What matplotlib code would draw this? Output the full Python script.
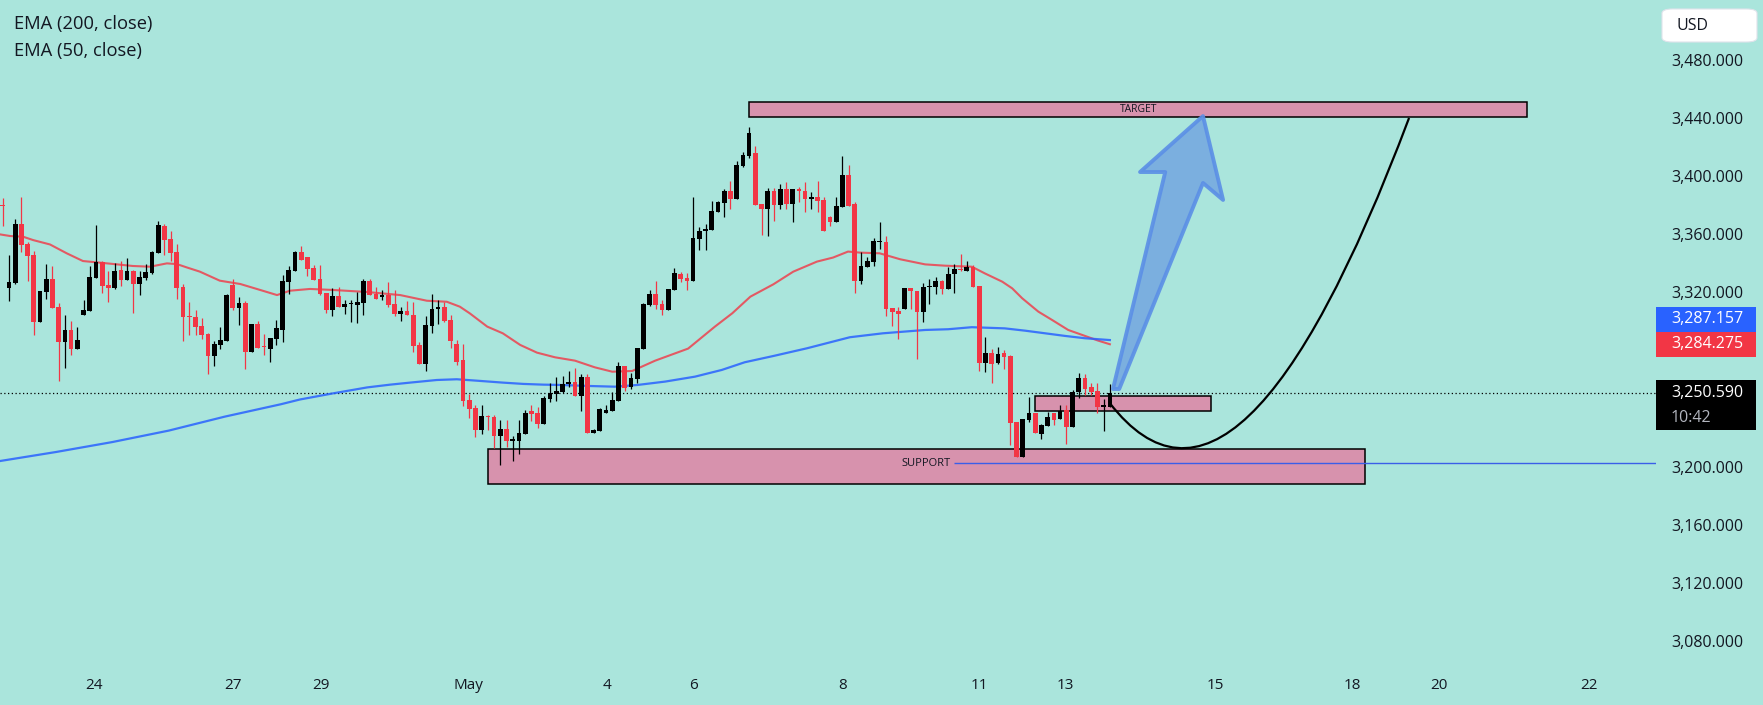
import matplotlib
matplotlib.use("Agg")
import matplotlib.pyplot as plt
from matplotlib.patches import Rectangle, Polygon, PathPatch, FancyBboxPatch
from matplotlib.path import Path
from matplotlib.ticker import FuncFormatter

# ---- 2h candles (index 0 = leftmost candle) ----
opens = [3380.2, 3323.2, 3326.4, 3366.9, 3353.2, 3345.6, 3299.8, 3320.4, 3329.1, 3309.9,
         3286.0, 3294.1, 3281.2, 3304.6, 3307.4, 3330.0, 3340.8, 3325.0, 3323.2, 3335.3,
         3328.7, 3334.6, 3325.9, 3330.0, 3333.5, 3347.2, 3365.6, 3356.6, 3347.7, 3323.6,
         3303.7, 3303.0, 3296.8, 3291.3, 3276.4, 3284.0, 3286.7, 3324.8, 3309.4, 3312.6,
         3279.2, 3298.2, 3282.6, 3281.2, 3287.9, 3294.3, 3327.3, 3334.9, 3347.7, 3344.3,
         3336.7, 3329.1, 3319.5, 3308.0, 3317.4, 3310.1, 3311.7, 3311.5, 3312.9, 3327.8,
         3318.8, 3316.5, 3318.1, 3311.9, 3305.3, 3307.1, 3304.4, 3283.7, 3270.9, 3297.0,
         3308.7, 3309.9, 3301.0, 3284.7, 3273.5, 3246.0, 3240.5, 3225.5, 3234.7, 3234.3,
         3221.4, 3226.0, 3218.0, 3218.0, 3222.8, 3238.4, 3237.0, 3229.7, 3246.9, 3250.3,
         3251.5, 3257.0, 3258.3, 3248.9, 3261.8, 3223.5, 3224.9, 3236.8, 3238.4, 3245.5,
         3269.6, 3255.2, 3260.6, 3281.3, 3311.3, 3318.6, 3312.0, 3307.9, 3321.6, 3332.8,
         3329.9, 3327.8, 3356.9, 3362.4, 3363.1, 3375.2, 3381.7, 3389.9, 3384.2, 3406.9,
         3414.0, 3415.6, 3380.8, 3377.3, 3389.9, 3380.3, 3391.1, 3380.8, 3390.4, 3389.7,
         3384.4, 3385.3, 3383.5, 3372.0, 3368.4, 3378.7, 3400.7, 3380.8, 3327.8, 3337.6,
         3341.1, 3354.6, 3354.8, 3309.2, 3307.4, 3308.5, 3322.8, 3321.2, 3306.7, 3323.5,
         3323.9, 3327.8, 3322.0, 3332.4, 3335.8, 3334.9, 3337.6, 3324.3, 3271.2, 3278.0,
         3271.2, 3278.0, 3276.2, 3230.8, 3207.0, 3232.2, 3237.0, 3222.6, 3228.3, 3236.8,
         3232.7, 3239.1, 3227.6, 3251.5, 3261.1, 3254.9, 3251.9, 3241.4, 3241.4]
highs = [3384.6, 3345.6, 3370.4, 3385.5, 3354.6, 3348.4, 3320.9, 3339.4, 3338.1, 3312.6,
         3304.4, 3300.2, 3296.1, 3314.7, 3338.1, 3366.3, 3341.5, 3334.6, 3339.9, 3341.5,
         3343.3, 3335.3, 3334.6, 3339.4, 3348.4, 3369.0, 3366.9, 3362.1, 3353.2, 3325.7,
         3313.3, 3307.8, 3302.5, 3292.0, 3286.5, 3296.1, 3318.6, 3329.1, 3316.8, 3314.0,
         3298.2, 3300.2, 3291.3, 3288.3, 3300.9, 3331.9, 3338.1, 3348.4, 3351.8, 3344.3,
         3338.8, 3338.8, 3319.5, 3322.9, 3323.6, 3314.7, 3314.7, 3320.2, 3329.1, 3329.1,
         3323.6, 3321.6, 3327.1, 3321.6, 3309.9, 3314.0, 3313.3, 3285.8, 3303.7, 3318.8,
         3314.7, 3313.5, 3304.4, 3287.2, 3284.5, 3250.1, 3242.3, 3242.5, 3235.9, 3235.9,
         3232.2, 3232.2, 3221.2, 3232.2, 3239.1, 3242.5, 3241.1, 3248.7, 3257.6, 3261.8,
         3262.5, 3265.9, 3268.2, 3263.6, 3263.6, 3225.8, 3240.3, 3242.8, 3251.3, 3271.9,
         3269.6, 3264.3, 3281.5, 3312.5, 3321.6, 3327.8, 3314.7, 3322.3, 3337.0, 3333.8,
         3333.5, 3385.6, 3364.7, 3366.8, 3382.8, 3383.0, 3391.1, 3396.6, 3410.3, 3416.7,
         3433.9, 3420.9, 3380.8, 3391.8, 3391.8, 3394.3, 3396.1, 3391.1, 3392.2, 3396.1,
         3389.2, 3396.8, 3385.3, 3372.7, 3385.3, 3413.8, 3407.6, 3382.4, 3348.0, 3344.5,
         3357.1, 3368.4, 3359.0, 3309.2, 3309.7, 3322.8, 3322.8, 3321.2, 3326.7, 3328.9,
         3330.8, 3328.5, 3337.2, 3339.5, 3346.3, 3341.8, 3338.6, 3324.3, 3289.1, 3280.8,
         3282.6, 3280.4, 3276.9, 3230.8, 3232.7, 3248.2, 3237.0, 3229.5, 3237.7, 3237.2,
         3242.3, 3242.5, 3253.1, 3264.5, 3263.8, 3257.4, 3257.4, 3246.4, 3257.0]
lows = [3365.8, 3314.2, 3325.9, 3347.9, 3328.0, 3290.9, 3299.8, 3315.6, 3309.4, 3259.2,
        3268.2, 3277.1, 3281.2, 3304.6, 3307.4, 3330.0, 3319.7, 3313.5, 3322.5, 3324.5,
        3328.7, 3306.0, 3318.4, 3328.7, 3332.8, 3347.2, 3345.6, 3341.5, 3315.6, 3286.7,
        3290.9, 3290.9, 3287.6, 3264.0, 3269.5, 3281.2, 3286.7, 3308.0, 3297.7, 3267.5,
        3279.2, 3281.9, 3276.9, 3272.3, 3284.0, 3286.0, 3318.6, 3334.9, 3342.2, 3331.4,
        3328.7, 3318.1, 3306.0, 3303.9, 3310.1, 3305.3, 3299.8, 3299.1, 3304.6, 3318.4,
        3315.6, 3314.9, 3310.1, 3303.9, 3300.5, 3304.6, 3279.2, 3270.9, 3266.1, 3292.2,
        3298.4, 3299.8, 3281.7, 3270.2, 3241.8, 3233.8, 3220.7, 3222.8, 3225.5, 3212.7,
        3201.2, 3213.9, 3204.2, 3209.0, 3222.8, 3231.7, 3226.9, 3229.7, 3244.8, 3245.5,
        3251.0, 3254.7, 3248.9, 3238.6, 3223.3, 3223.1, 3224.9, 3236.8, 3238.4, 3245.5,
        3252.4, 3253.3, 3257.9, 3281.3, 3310.9, 3308.5, 3304.4, 3307.9, 3321.6, 3326.9,
        3321.6, 3327.8, 3349.1, 3349.3, 3363.1, 3375.0, 3372.0, 3377.3, 3384.2, 3406.4,
        3412.2, 3379.8, 3359.7, 3358.7, 3369.3, 3377.3, 3377.3, 3368.4, 3382.4, 3375.0,
        3377.3, 3375.0, 3362.4, 3365.8, 3368.4, 3378.7, 3379.4, 3319.8, 3326.0, 3337.6,
        3338.4, 3349.8, 3303.7, 3297.1, 3288.2, 3308.5, 3308.5, 3273.9, 3299.4, 3312.0,
        3318.9, 3318.8, 3322.0, 3319.8, 3334.9, 3334.9, 3323.9, 3266.1, 3265.4, 3257.9,
        3270.7, 3267.5, 3215.2, 3207.0, 3207.0, 3231.1, 3223.0, 3219.1, 3228.3, 3228.8,
        3232.7, 3215.5, 3227.6, 3247.1, 3249.4, 3249.4, 3236.8, 3224.9, 3241.4]
closes = [3379.5, 3326.8, 3366.9, 3352.5, 3345.2, 3299.8, 3320.9, 3329.1, 3309.4, 3286.0,
          3294.1, 3281.2, 3287.2, 3307.8, 3330.5, 3340.8, 3324.5, 3323.2, 3334.6, 3328.7,
          3334.6, 3325.9, 3330.5, 3333.9, 3347.7, 3366.3, 3356.2, 3347.2, 3323.2, 3303.2,
          3303.2, 3296.4, 3290.9, 3276.4, 3284.4, 3287.2, 3318.1, 3309.4, 3312.6, 3279.2,
          3298.2, 3281.9, 3282.1, 3288.3, 3295.4, 3327.8, 3335.3, 3347.7, 3342.2, 3336.2,
          3328.7, 3319.0, 3308.0, 3317.4, 3310.1, 3311.9, 3311.9, 3313.3, 3327.8, 3318.4,
          3315.6, 3318.1, 3311.5, 3305.3, 3307.1, 3304.6, 3283.3, 3270.9, 3297.5, 3308.5,
          3310.1, 3300.5, 3286.5, 3272.3, 3245.5, 3240.0, 3225.5, 3234.9, 3234.3, 3221.4,
          3226.0, 3217.8, 3218.5, 3223.3, 3237.0, 3236.6, 3229.7, 3247.6, 3251.0, 3252.1,
          3257.0, 3258.3, 3248.9, 3261.8, 3223.3, 3225.4, 3239.8, 3239.1, 3246.0, 3269.6,
          3254.0, 3261.3, 3281.5, 3312.0, 3318.6, 3311.3, 3307.9, 3322.3, 3333.3, 3329.4,
          3327.8, 3357.4, 3362.4, 3363.8, 3375.9, 3382.1, 3389.9, 3384.2, 3407.6, 3414.4,
          3429.6, 3379.8, 3377.3, 3389.9, 3380.3, 3391.1, 3380.8, 3391.1, 3389.9, 3384.2,
          3385.3, 3382.8, 3362.4, 3368.4, 3379.4, 3400.7, 3379.4, 3327.8, 3338.3, 3341.8,
          3355.3, 3355.1, 3308.5, 3306.5, 3305.1, 3322.8, 3320.7, 3306.7, 3323.5, 3324.1,
          3327.6, 3322.0, 3332.6, 3335.8, 3335.3, 3337.2, 3323.9, 3271.2, 3278.0, 3270.7,
          3277.4, 3275.8, 3230.4, 3207.0, 3232.7, 3236.8, 3223.0, 3228.8, 3234.0, 3232.2,
          3238.6, 3227.6, 3251.5, 3261.1, 3253.7, 3251.5, 3240.9, 3241.8, 3250.59]

# ---- EMA lines (candle index, price) ----
ema50_x = [-0.4, 1.2, 3.3, 4.9, 7.6, 10.3, 12.9, 15.6, 18.4, 20.9, 23.7, 26.4, 28.0, 29.6,
           31.7, 34.9, 38.2, 41.4, 44.1, 46.2, 49.4, 53.1, 58.6, 63.9, 68.2, 71.4, 73.5,
           75.1, 77.9, 80.4, 83.2, 85.9, 88.8, 92.0, 95.2, 98.0, 101.2, 104.9, 110.2,
           114.5, 117.3, 120.2, 123.9, 127.1, 130.9, 133.5, 135.9, 137.8, 141.0, 144.3,
           148.3, 151.5, 155.8, 157.9, 160.7, 162.3, 163.9, 166.5, 168.7, 171.3, 174.0,
           176.1, 178.0]
ema50_y = [3359.8, 3358.7, 3358.2, 3355.9, 3352.9, 3346.8, 3341.5, 3340.4, 3339.2, 3338.1,
           3337.6, 3339.9, 3339.4, 3337.1, 3334.2, 3328.0, 3325.7, 3321.6, 3318.1, 3321.1,
           3322.3, 3321.6, 3320.2, 3318.1, 3314.2, 3313.5, 3310.1, 3305.5, 3296.4, 3291.8,
           3283.8, 3278.5, 3275.3, 3273.0, 3268.4, 3265.4, 3265.9, 3273.0, 3281.3, 3296.4,
           3305.6, 3317.0, 3325.5, 3334.2, 3341.1, 3343.9, 3348.0, 3347.3, 3346.8, 3342.7,
           3339.2, 3338.3, 3337.6, 3333.0, 3327.3, 3322.7, 3315.9, 3306.7, 3301.0, 3294.1,
           3290.0, 3286.8, 3284.275]
ema200_x = [-0.4, 8.6, 17.6, 26.7, 35.7, 44.7, 47.8, 53.1, 58.6, 62.3, 65.5, 69.8, 73.0,
            76.3, 80.4, 83.7, 86.9, 89.6, 94.1, 98.4, 102.1, 106.5, 111.3, 115.6, 119.3,
            123.9, 129.3, 136.2, 141.5, 148.3, 152.0, 155.8, 161.1, 164.4, 167.6, 170.8,
            174.0, 178.0]
ema200_y = [3204.0, 3210.2, 3217.0, 3224.9, 3234.5, 3243.0, 3246.3, 3250.5, 3254.6, 3256.5,
            3257.9, 3259.7, 3260.2, 3259.2, 3257.9, 3257.0, 3256.5, 3256.3, 3255.6, 3255.1,
            3256.3, 3258.6, 3262.0, 3266.6, 3271.9, 3276.2, 3281.5, 3289.1, 3291.8, 3294.1,
            3294.6, 3296.0, 3295.2, 3293.6, 3291.8, 3290.0, 3288.4, 3287.157]

last_price = 3250.59
price_ticks = [3480, 3440, 3400, 3360, 3320, 3200, 3160, 3120, 3080]
date_pos = [14.7, 37.0, 51.1, 74.9, 97.2, 111.1, 135.0, 157.0, 170.9, 195.0, 217.0, 230.9, 255.0]
date_labels = ["24", "27", "29", "May", "4", "6", "8", "11", "13", "15", "18", "20", "22"]

# drawings (candle index, price)
target_zone = (120.0, 245.1, 3440.6, 3450.7)
support_zone = (78.0, 219.0, 3188.5, 3212.5)
entry_zone = (166.0, 194.2, 3238.2, 3248.7)
support_level = 3202.4
curve_pts = [(178.0, 3243.7), (198.8, 3129.0), (226.1, 3439.9)]
arrow_pts = [(178.5, 3253.5), (186.9, 3402.7), (182.85, 3402.7), (192.97, 3441.2),
             (196.2, 3383.5), (192.97, 3395.2), (179.5, 3253.5)]

BG = "#aae5dc"
RED = "#f23645"
BLACK = "#000000"
BLUE = "#2962ff"
PINK = "#d792ad"
TXT = "#131722"
W, H = 1763, 705

plt.rcParams["font.family"] = ["Open Sans", "DejaVu Sans"]

fig = plt.figure(figsize=(W / 100, H / 100), dpi=100)
fig.patch.set_facecolor(BG)
ax = fig.add_axes([0, 33 / H, 1656 / W, 672 / H])
ax.set_facecolor(BG)
ax.set_xlim(-0.434, 265.8)
ax.set_ylim(3058.9, 3521.0)
for s in ax.spines.values():
    s.set_visible(False)

# candles
for i in range(len(opens)):
    o, h, l, c = opens[i], highs[i], lows[i], closes[i]
    col = BLACK if c >= o else RED
    ax.vlines(i, l, h, color=col, lw=0.9, zorder=3)
    body = max(abs(c - o), 0.8)
    ax.bar(i, body, bottom=min(o, c), width=0.76, color=col, lw=0, zorder=3)

ax.plot(ema50_x, ema50_y, color=RED, lw=1.5, alpha=0.8, zorder=2)
ax.plot(ema200_x, ema200_y, color=BLUE, lw=1.6, alpha=0.85, zorder=2)

# zones
for x0, x1, y0, y1 in (target_zone, support_zone, entry_zone):
    ax.add_patch(Rectangle((x0, y0), x1 - x0, y1 - y0, facecolor=PINK,
                           edgecolor="black", lw=1.1, zorder=1))
ax.text((target_zone[0] + target_zone[1]) / 2, (target_zone[2] + target_zone[3]) / 2,
        "TARGET", ha="center", va="center", fontsize=7.5, color=TXT, zorder=4)
ax.text((support_zone[0] + support_zone[1]) / 2, support_level, "SUPPORT",
        ha="center", va="center", fontsize=8, color=TXT, zorder=4)
ax.hlines(support_level, 152.9, 265.8, color="#3a5ee8", lw=1.0, zorder=2)

# last price dotted line
ax.axhline(last_price, color="black", lw=0.9, ls=(0, (1, 2)), zorder=1)

# projection curve
path = Path(curve_pts, [Path.MOVETO, Path.CURVE3, Path.CURVE3])
ax.add_patch(PathPatch(path, facecolor="none", edgecolor="black", lw=1.6, zorder=4))

# big arrow
ax.add_patch(Polygon(arrow_pts, closed=True, facecolor="#76a9e0", edgecolor="#5b8fe6",
                     lw=2.8, alpha=0.9, joinstyle="round", zorder=5))

# axes ticks
ax.yaxis.tick_right()
ax.set_yticks(price_ticks)
ax.yaxis.set_major_formatter(FuncFormatter(lambda v, p: f"{v:,.3f}"))
ax.tick_params(axis="y", length=0, pad=11, labelsize=11.5, labelcolor=TXT)
ax.set_xticks(date_pos, date_labels)
ax.tick_params(axis="x", length=0, pad=4, labelsize=11, labelcolor=TXT)

# legend texts
fig.text(14 / W, 1 - 24.5 / H, "EMA (200, close)", fontsize=13.2, color=TXT, va="center")
fig.text(14 / W, 1 - 51 / H, "EMA (50, close)", fontsize=13.2, color=TXT, va="center")

# USD box
fig.patches.append(FancyBboxPatch((1662 / W, 1 - 42 / H), 95 / W, 33 / H,
                                  boxstyle="round,pad=0,rounding_size=0.006",
                                  facecolor="white", edgecolor="#e0e3eb", lw=0.8,
                                  transform=fig.transFigure, figure=fig))
fig.text(1676 / W, 1 - 25.5 / H, "USD", fontsize=11.5, color=TXT, va="center")

# price badges
def y_img(v):
    return H - ax.transData.transform((0, v))[1]

red_c = y_img(ema50_y[-1])
blue_c = red_c - 25
blk_c = y_img(last_price)
for yc, col, txt in ((blue_c, BLUE, f"{ema200_y[-1]:,.3f}"), (red_c, RED, f"{ema50_y[-1]:,.3f}")):
    fig.patches.append(Rectangle((1656 / W, 1 - (yc + 12.5) / H), 100 / W, 25 / H,
                                 facecolor=col, lw=0, transform=fig.transFigure, figure=fig))
    fig.text(1671 / W, 1 - yc / H, txt, fontsize=11.5, color="white", va="center")
fig.patches.append(Rectangle((1656 / W, 1 - (blk_c + 37) / H), 100 / W, 50 / H,
                             facecolor="black", lw=0, transform=fig.transFigure, figure=fig))
fig.text(1671 / W, 1 - blk_c / H, f"{last_price:,.3f}", fontsize=11.5, color="white", va="center")
fig.text(1671 / W, 1 - (blk_c + 24.5) / H, "10:42", fontsize=11.5, color="#b2b5be", va="center")

fig.savefig("out.png", dpi=100, facecolor=BG)
